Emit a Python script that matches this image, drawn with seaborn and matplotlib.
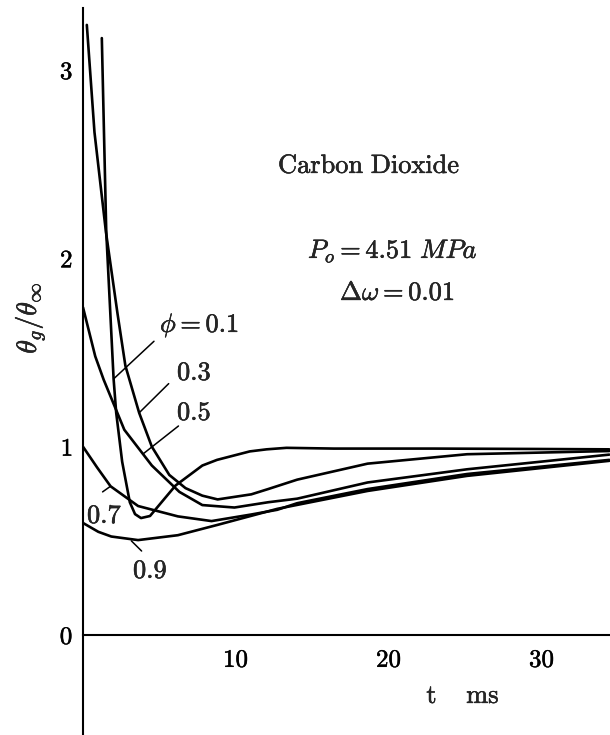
import numpy as np
import pandas as pd
import matplotlib
matplotlib.use("Agg")
import matplotlib.pyplot as plt
import matplotlib.patheffects as pe
import seaborn as sns

# ---- data (t in ms, theta_g/theta_inf) ----
t_01 = [1.23, 1.52, 2.0, 2.17, 2.56, 3.06, 3.4, 3.79, 4.38, 6.05, 7.8, 8.76, 10.9, 12.0, 13.3, 16.4, 22.9, 29.5, 34.4]
v_01 = [3.17, 2.14, 1.36, 1.18, 0.92, 0.705, 0.642, 0.621, 0.632, 0.794, 0.90, 0.93, 0.975, 0.986, 0.994, 0.99, 0.99, 0.988, 0.986]

t_03 = [0.25, 0.75, 1.5, 2.25, 2.77, 3.67, 4.5, 5.64, 6.7, 7.8, 8.8, 11.0, 12.1, 14.0, 18.6, 25.1, 34.4]
v_03 = [3.24, 2.67, 2.14, 1.71, 1.43, 1.18, 1.0, 0.85, 0.78, 0.74, 0.72, 0.747, 0.775, 0.825, 0.91, 0.96, 0.977]

t_05 = [0.0, 0.8, 1.35, 2.7, 4.5, 6.3, 7.8, 9.9, 12.1, 14.0, 18.6, 25.1, 34.4]
v_05 = [1.74, 1.48, 1.356, 1.09, 0.90, 0.76, 0.69, 0.677, 0.705, 0.724, 0.81, 0.88, 0.958]

t_07 = [0.0, 0.92, 1.8, 3.6, 6.2, 8.4, 11.0, 12.7, 14.0, 18.6, 25.1, 34.4]
v_07 = [1.0, 0.89, 0.79, 0.685, 0.63, 0.605, 0.64, 0.665, 0.70, 0.775, 0.855, 0.93]

t_09 = [0.0, 1.0, 1.85, 3.6, 6.2, 8.8, 12.7, 18.6, 25.1, 34.4]
v_09 = [0.595, 0.548, 0.523, 0.504, 0.53, 0.585, 0.67, 0.765, 0.845, 0.925]

phi_values = ["0.1", "0.3", "0.5", "0.7", "0.9"]
x_ticks = [10, 20, 30]
y_ticks = [0, 1, 2, 3]

series = {"0.1": (t_01, v_01), "0.3": (t_03, v_03), "0.5": (t_05, v_05),
          "0.7": (t_07, v_07), "0.9": (t_09, v_09)}
df = pd.concat([pd.DataFrame({"t": series[p][0], "theta": series[p][1], "phi": p})
                for p in phi_values], ignore_index=True)

# ---- style ----
sns.set_style("white")
plt.rcParams["mathtext.fontset"] = "cm"
plt.rcParams["font.family"] = ["DejaVu Serif"]

W, H = 610, 735
fig = plt.figure(figsize=(W / 100, H / 100), dpi=100)
ax = fig.add_axes([83 / W, 0.0, (W - 83) / W, (H - 8) / H])

sns.lineplot(data=df, x="t", y="theta", hue="phi", units="phi", estimator=None,
             palette={p: "black" for p in phi_values}, linewidth=1.9,
             legend=False, ax=ax, sort=False)
for ln in ax.lines:
    ln.set_solid_joinstyle("round")
    ln.set_solid_capstyle("round")

ax.set_xlim(0, (W - 83) / 15.3)
ax.set_ylim((635 - 735) / 188.3, (635 - 8) / 188.3)

for s in ["top", "right"]:
    ax.spines[s].set_visible(False)
ax.spines["bottom"].set_position(("data", 0))
for s in ["left", "bottom"]:
    ax.spines[s].set_linewidth(1.5)
    ax.spines[s].set_color("black")

bold = [pe.withStroke(linewidth=0.35, foreground="black")]

ax.set_xticks(x_ticks, labels=[rf"${v}$" for v in x_ticks])
ax.set_yticks(y_ticks, labels=[rf"${v}$" for v in y_ticks])
ax.tick_params(axis="x", direction="inout", length=4, width=1.2, pad=8, labelsize=18, colors="black")
ax.tick_params(axis="y", direction="in", length=4, width=1.2, pad=7, labelsize=18, colors="black")
for lab in ax.get_xticklabels() + ax.get_yticklabels():
    lab.set_path_effects(bold)

ax.set_xlabel(r"$\mathrm{t}\quad\;\mathrm{ms}$", fontsize=19, va="baseline")
ax.xaxis.set_label_coords((463 - 83) / (W - 83), (H - 703) / (H - 8))
ax.xaxis.label.set_path_effects(bold)
ax.set_ylabel(r"$\theta_g/\theta_\infty$", fontsize=20, va="center")
ax.yaxis.set_label_coords((30 - 83) / (W - 83), (H - 318) / (H - 8))
ax.yaxis.label.set_path_effects(bold)

# ---- annotation texts (figure pixel positions, left/baseline) ----
def ftext(x, y, s, size=19):
    fig.text(x / W, 1 - y / H, s, fontsize=size, ha="left", va="baseline",
             path_effects=bold)

ftext(278, 173, r"$\mathrm{Carbon\ Dioxide}$")
ftext(308, 258, r"$P_o = 4.51\ MPa$")
ftext(340, 300, r"$\Delta\omega = 0.01$")
ftext(160, 332, r"$\phi = 0.1$")
ftext(177, 380, r"$0.3$")
ftext(177, 420, r"$0.5$")
ftext(87, 523, r"$0.7$")
ftext(133, 578, r"$0.9$")

# leader lines (data coords)
leaders = [((4.64, 1.56), (2.0, 1.36)),
           ((5.6, 1.335), (3.67, 1.18)),
           ((6.24, 1.11), (3.9, 0.96)),
           ((1.28, 0.76), (1.8, 0.79)),
           ((3.16, 0.50), (3.83, 0.446))]
for start, end in leaders:
    ax.annotate("", xy=end, xytext=start,
                arrowprops=dict(arrowstyle="-", lw=1.1, color="black",
                                shrinkA=0, shrinkB=0))

fig.savefig("out.png", dpi=100)
